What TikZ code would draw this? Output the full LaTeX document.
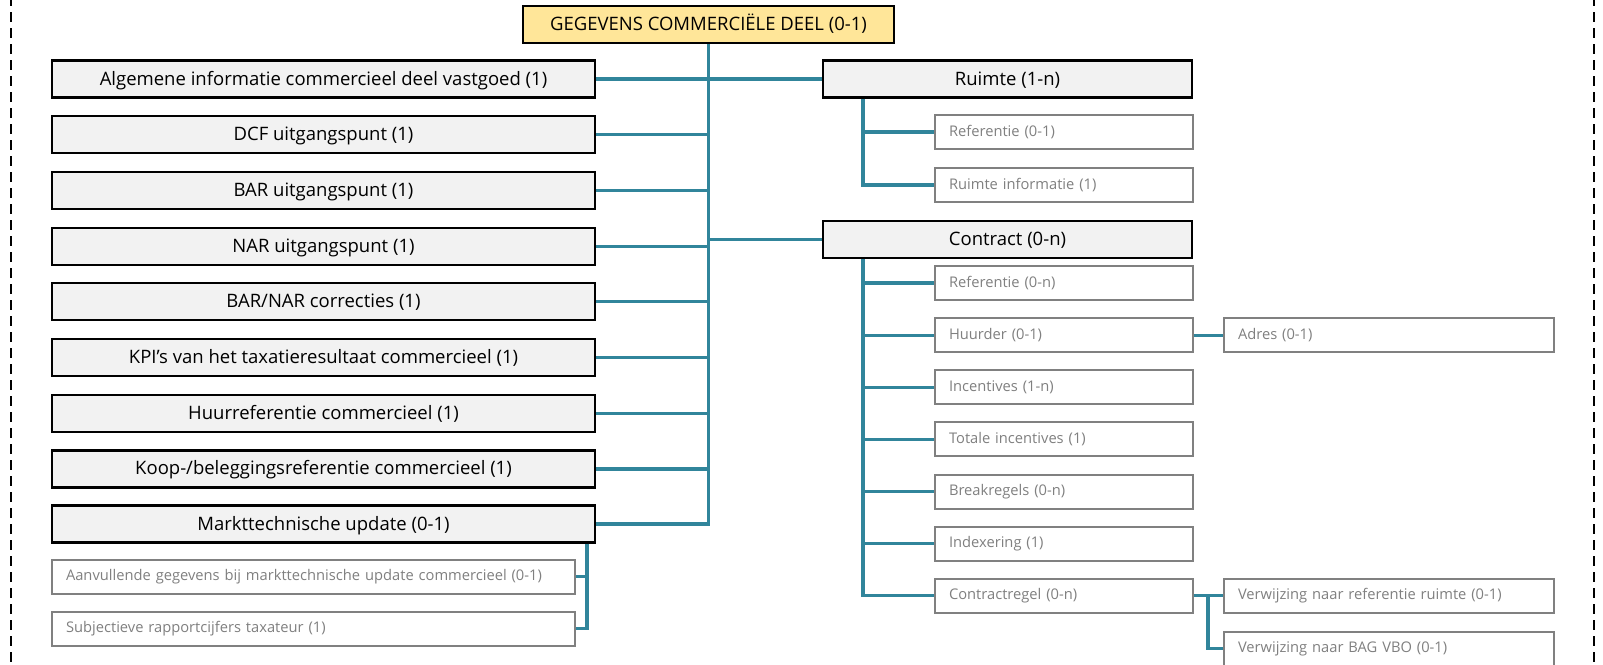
\documentclass[tikz,border=0pt]{standalone}
\usepackage{fontspec}
\setmainfont{Open Sans}
\definecolor{teal1}{RGB}{49,133,155}
\definecolor{headfill}{RGB}{255,230,153}
\definecolor{boxfill}{RGB}{242,242,242}
\definecolor{leafgrey}{RGB}{128,128,128}
\begin{document}
\begin{tikzpicture}[x=1pt,y=-1pt,
  headbox/.style={draw=black, line width=2.2pt, fill=headfill, minimum width=371, minimum height=37, inner sep=0pt, text height=14pt, text depth=2pt, font=\fontsize{18.5}{21}\selectfont},
  mainbox/.style={draw=black, line width=2.2pt, fill=boxfill, minimum width=#1, minimum height=37, inner sep=0pt, text height=14pt, text depth=2pt, font=\fontsize{18.5}{21}\selectfont},
  leafbox/.style={draw=leafgrey, line width=2pt, fill=white, text=leafgrey, text width=#1, minimum height=34, inner xsep=14pt, inner ysep=0pt, align=left, font=\fontsize{14.7}{17}\selectfont},
  link/.style={draw=teal1, line width=3.2pt},
  frame/.style={draw=black, line width=2.5pt, dash pattern=on 10pt off 6pt}]
\useasboundingbox (0,0) rectangle (1603,664);
\clip (0,0) rectangle (1603,664);

% dashed frame sides
\draw[frame] (11,-4) -- (11,668);
\draw[frame] (1594,-4) -- (1594,668);

% branch positions of the connectors
\coordinate (rx) at (863,0);
\coordinate (mx) at (587,0);
\coordinate (cx) at (1208,0);

% root
\node[headbox] (top) at (708.5,24.5) {GEGEVENS COMMERCIËLE DEEL (0-1)};

% left column
\node[mainbox=543] (alg) at (323.5,79.0) {Algemene informatie commercieel deel vastgoed (1)};
\node[mainbox=543] (dcf) at (323.5,134.7) {DCF uitgangspunt (1)};
\node[mainbox=543] (bar) at (323.5,190.4) {BAR uitgangspunt (1)};
\node[mainbox=543] (nar) at (323.5,246.1) {NAR uitgangspunt (1)};
\node[mainbox=543] (corr) at (323.5,301.8) {BAR/NAR correcties (1)};
\node[mainbox=543] (kpi) at (323.5,357.5) {KPI’s van het taxatieresultaat commercieel (1)};
\node[mainbox=543] (huur) at (323.5,413.2) {Huurreferentie commercieel (1)};
\node[mainbox=543] (koop) at (323.5,468.9) {Koop-/beleggingsreferentie commercieel (1)};
\node[mainbox=543] (markt) at (323.5,524.0) {Markttechnische update (0-1)};

\node[leafbox=495] (aanv) at (313.5,576.5) {Aanvullende gegevens bij markttechnische update commercieel (0-1)};
\node[leafbox=495] (subj) at (313.5,628.5) {Subjectieve rapportcijfers taxateur (1)};

% right column
\node[mainbox=369] (ruimte) at (1007.5,79.0) {Ruimte (1-n)};
\node[leafbox=230] (rref) at (1064,132) {Referentie (0-1)};
\node[leafbox=230] (rinfo) at (1064,185) {Ruimte informatie (1)};

\node[mainbox=369] (contract) at (1007.5,239.5) {Contract (0-n)};
\node[leafbox=230] (cref) at (1064,283.0) {Referentie (0-n)};
\node[leafbox=230] (huurder) at (1064,335.1) {Huurder (0-1)};
\node[leafbox=230] (incent) at (1064,387.3) {Incentives (1-n)};
\node[leafbox=230] (totinc) at (1064,439.4) {Totale incentives (1)};
\node[leafbox=230] (break) at (1064,491.5) {Breakregels (0-n)};
\node[leafbox=230] (index) at (1064,543.6) {Indexering (1)};
\node[leafbox=230] (cregel) at (1064,595.7) {Contractregel (0-n)};

\node[leafbox=302] (adres) at (1389,335.1) {Adres (0-1)};
\node[leafbox=302] (verw1) at (1389,595.7) {Verwijzing naar referentie ruimte (0-1)};
\node[leafbox=302] (verw2) at (1389,648.7) {Verwijzing naar BAG VBO (0-1)};

% trunk and branches
\draw[link] (top.south) -- (top.south |- markt.east) -- (markt.east);
\draw[link] (alg.east) -- (ruimte.west);
\draw[link] (dcf.east) -- (dcf.east -| top.south);
\draw[link] (bar.east) -- (bar.east -| top.south);
\draw[link] (nar.east) -- (nar.east -| top.south);
\draw[link] (corr.east) -- (corr.east -| top.south);
\draw[link] (kpi.east) -- (kpi.east -| top.south);
\draw[link] (huur.east) -- (huur.east -| top.south);
\draw[link] (koop.east) -- (koop.east -| top.south);
\draw[link] (top.south |- contract.west) -- (contract.west);

% sub branches
\draw[link] (mx |- markt.south) |- (subj.east);
\draw[link] (mx |- aanv.east) -- (aanv.east);

\draw[link] (rx |- ruimte.south) |- (rinfo.west);
\draw[link] (rx |- rref.west) -- (rref.west);

\draw[link] (rx |- contract.south) |- (cregel.west);
\draw[link] (rx |- cref.west) -- (cref.west);
\draw[link] (rx |- huurder.west) -- (huurder.west);
\draw[link] (rx |- incent.west) -- (incent.west);
\draw[link] (rx |- totinc.west) -- (totinc.west);
\draw[link] (rx |- break.west) -- (break.west);
\draw[link] (rx |- index.west) -- (index.west);

\draw[link] (huurder.east) -- (adres.west);
\draw[link] (cregel.east) -- (verw1.west);
\draw[link] (cx |- verw1.west) |- (verw2.west);
\end{tikzpicture}
\end{document}
